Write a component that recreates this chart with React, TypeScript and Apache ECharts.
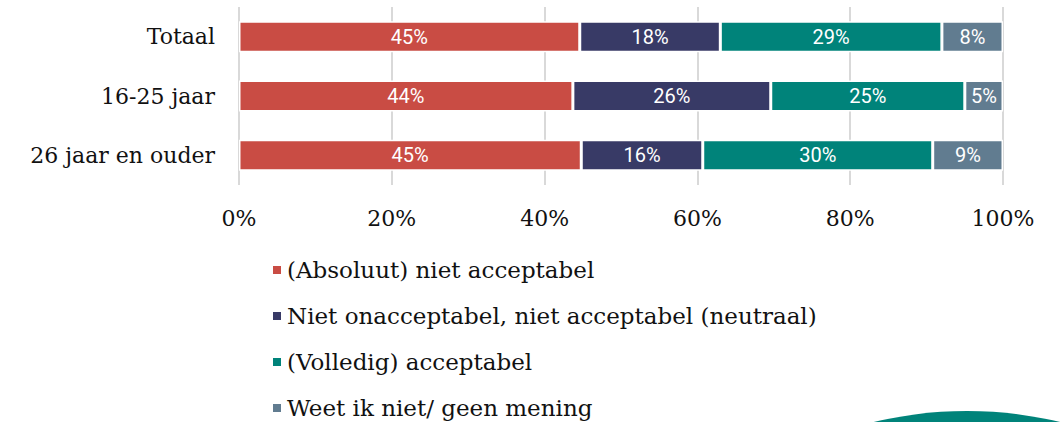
import React, { useEffect, useRef } from "react";
import * as echarts from "echarts";

const categories = ["Totaal", "16-25 jaar", "26 jaar en ouder"];
const seriesNames = [
  "(Absoluut) niet acceptabel",
  "Niet onacceptabel, niet acceptabel (neutraal)",
  "(Volledig) acceptabel",
  "Weet ik niet/ geen mening",
];
const nietAcceptabel = [44.6, 43.7, 44.8];
const neutraal = [18.4, 25.9, 15.9];
const acceptabel = [29.0, 25.4, 30.1];
const weetNiet = [8.0, 5.0, 9.2];
const xTicks = [0, 20, 40, 60, 80, 100];
const colors = ["#C94C44", "#383A66", "#00837A", "#617C90"];

const serif = "'DejaVu Serif', 'Liberation Serif', serif";

export default function App() {
  const ref = useRef<HTMLDivElement>(null);
  useEffect(() => {
    if (!ref.current) return;
    const chart = echarts.init(ref.current, null, { renderer: "svg" });
    const values = [nietAcceptabel, neutraal, acceptabel, weetNiet];
    chart.setOption({
      animation: false,
      grid: { left: 239, right: 60, top: 7, height: 178, containLabel: false },
      xAxis: {
        type: "value",
        min: xTicks[0],
        max: xTicks[xTicks.length - 1],
        interval: 20,
        axisLine: { show: false },
        axisTick: { show: false },
        splitLine: { show: true, lineStyle: { color: "#D9D9D9", width: 2 } },
        axisLabel: {
          formatter: "{value}%",
          fontFamily: serif,
          fontSize: 22,
          color: "#111",
          margin: 22,
        },
      },
      yAxis: {
        type: "category",
        data: categories,
        inverse: true,
        axisLine: { show: false },
        axisTick: { show: false },
        axisLabel: {
          fontFamily: serif,
          fontSize: 22,
          color: "#111",
          margin: 24,
        },
      },
      legend: {
        orient: "vertical",
        left: 266,
        top: 252,
        height: 180,
        icon: "rect",
        itemWidth: 10,
        itemHeight: 10,
        itemGap: 20,
        data: seriesNames,
        textStyle: { fontFamily: serif, fontSize: 23, color: "#111", lineHeight: 26 },
      },
      series: values.map((v, i) => ({
        name: seriesNames[i],
        type: "bar",
        stack: "total",
        data: v,
        barWidth: 31,
        itemStyle: { color: colors[i], borderColor: "#fff", borderWidth: 1.5 },
        label: {
          show: true,
          position: "inside",
          color: "#fff",
          fontFamily: "Roboto, sans-serif",
          fontSize: 20,
          formatter: (p: any) => Math.round(p.value) + "%",
        },
      })),
      graphic: [
        {
          type: "circle",
          shape: { cx: 967, cy: 811, r: 400 },
          style: { fill: "#00837A" },
          z: -1,
        },
      ],
    });
    return () => chart.dispose();
  }, []);
  return (
    <div
      ref={ref}
      style={{ position: "absolute", left: 0, top: 0, width: 1063, height: 422 }}
    />
  );
}
